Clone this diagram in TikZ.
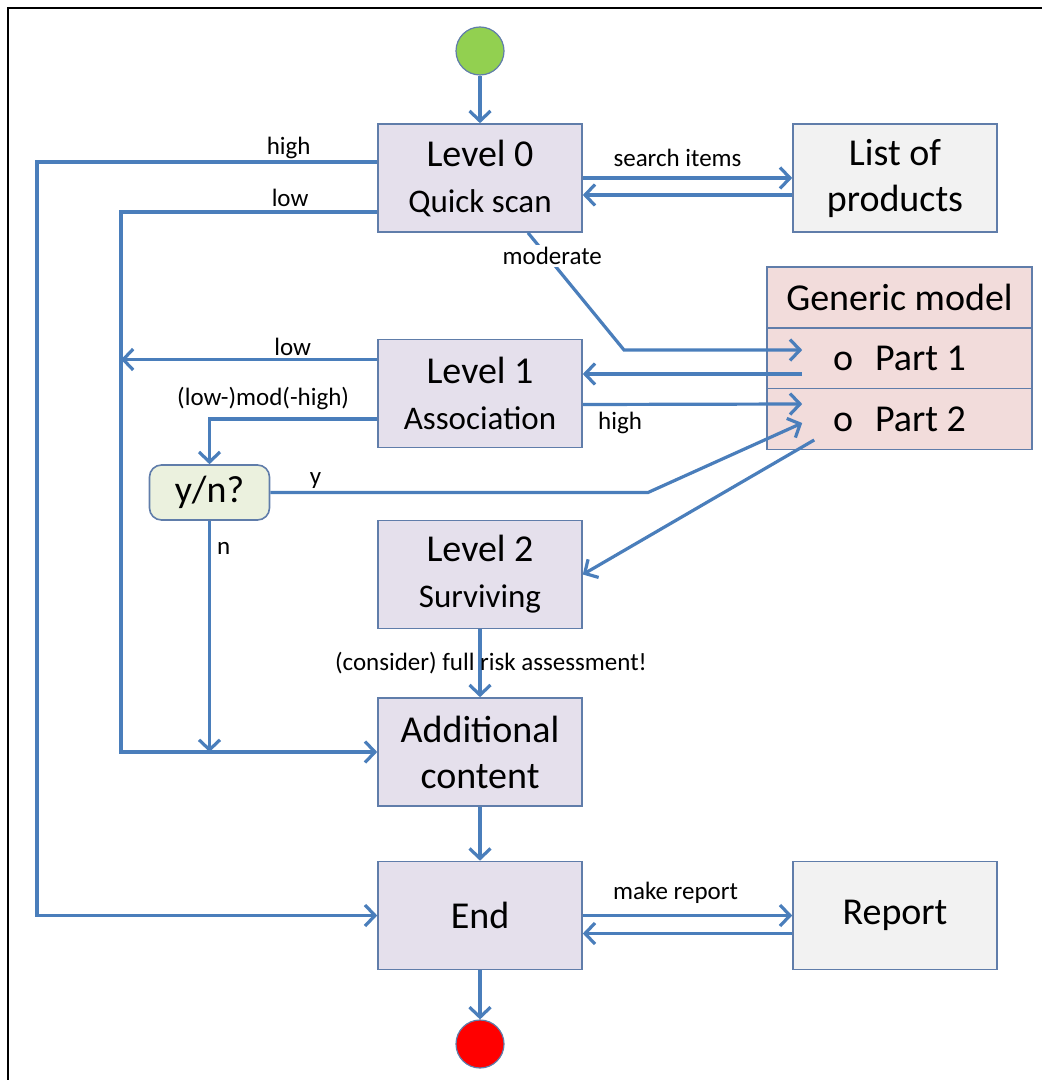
\documentclass[tikz,border=0pt]{standalone}
\usepackage{fontspec}
\setmainfont{Carlito}
\usetikzlibrary{
  arrows.meta,
  positioning
}
\definecolor{flowline}{RGB}{74,126,187}
\definecolor{boxline}{RGB}{96,125,170}
\definecolor{levelfill}{RGB}{229,224,236}
\definecolor{extfill}{RGB}{242,242,242}
\definecolor{modelfill}{RGB}{242,220,219}
\definecolor{choicefill}{RGB}{235,241,222}
\definecolor{startfill}{RGB}{146,208,80}
\newcommand{\subline}{\fontsize{16.5}{23}\selectfont}

\begin{document}
\begin{tikzpicture}[
  x=0.5pt, y=-0.5pt,
  every node/.style={font=\fontsize{19}{23}\selectfont},
  box/.style={draw=boxline, line width=0.8pt, minimum width=102pt, minimum height=54pt,
              align=center, inner sep=0pt},
  levelbox/.style={box, fill=levelfill},
  extbox/.style={box, fill=extfill},
  partbox/.style={draw=boxline, line width=0.8pt, fill=modelfill, minimum width=132.5pt,
                  minimum height=30.5pt, inner sep=0pt},
  terminal/.style={circle, draw=boxline, line width=0.6pt, minimum size=24pt, inner sep=0pt},
  flow/.style={draw=flowline, line width=1.6pt, -{Straight Barb[length=5pt,width=10.5pt]}},
  lbl/.style={font=\fontsize{12.5}{14}\selectfont, inner sep=1pt}
]
\useasboundingbox (0,0) rectangle (1041,1080);
\draw[line width=1pt] (8,1090) -- (8,8) -- (1050,8);

% start / stop
\node[terminal, fill=startfill] (start) at (480,51) {};
\node[terminal, fill=red] (stop) at (480,1044) {};

% levels
\node[levelbox] (lvl0) at (480,178) {Level 0\\{\subline Quick scan}};
\node[levelbox] (lvl1) at (480,393.5) {Level 1\\{\subline Association}};
\node[levelbox] (lvl2) at (480,574.5) {Level 2\\{\subline Surviving}};
\node[levelbox] (addc) at (480,752) {Additional\\content};
\node[levelbox] (endn) at (480,915.5) {End};

% outside boxes
\node[extbox] (prod) at (895,178) {List of\\products};
\node[extbox] (rep) at (895,915.5) {Report};

% generic model, one node per row
\node[partbox] (gm) at (899.5,297.5) {Generic model};
\node[partbox] (p1) at (899.5,358.5) {o\hspace{11pt}Part 1};
\node[partbox] (p2) at (899.5,419) {o\hspace{11pt}Part 2};

\node[draw=boxline, line width=0.8pt, fill=choicefill, rounded corners=6pt,
      minimum width=60pt, minimum height=27.5pt, inner sep=0pt] (yn) at (209.5,492.5) {y/n?};

% bends, rails and ends inside the model rows
\coordinate (hirail) at (37,0);
\coordinate (lorail) at (121,0);
\coordinate (modbend) at (624,350);
\coordinate (ybend) at (648,492.5);
\coordinate (p1in) at ([xshift=18pt,yshift=4.25pt]p1.west);
\coordinate (p1out) at ([xshift=18pt,yshift=-7.75pt]p1.west);
\coordinate (p2in) at ([xshift=18pt,yshift=7.5pt]p2.west);
\coordinate (p2yin) at ([xshift=18pt,yshift=-2pt]p2.west);
\coordinate (p2out) at ([xshift=24pt,yshift=-10.5pt]p2.west);
\coordinate (l1low) at ([yshift=17pt]lvl1.west);

% main line
\draw[flow] (start) -- (lvl0);
\draw[flow] ([yshift=8pt]lvl0.west) -| node[lbl, pos=0.13, above] {high} (hirail |- endn.west)
  -- (endn.west);
\draw[flow] ([yshift=-17pt]lvl0.west) -| node[lbl, pos=0.17, above=1pt] {low} (lorail |- addc.west)
  -- (addc.west);
\draw[flow] (lvl0.east) -- node[lbl, above=4pt, xshift=-5pt] {search items} (lvl0.east -| prod.west);
\draw[flow] ([yshift=-8.5pt]prod.west) -- ([yshift=-8.5pt]lvl0.east);
\draw[flow] ([xshift=24pt]lvl0.south) -- node[lbl, pos=0.2, xshift=2.5pt, fill=white] {moderate}
  (modbend) -- (p1in);

\draw[flow] (p1out) -- ([yshift=9.75pt]lvl1.east);
\draw[flow] ([yshift=-5.5pt]lvl1.east) -- node[lbl, pos=0.17, below=2pt] {high} (p2in);
\draw[flow] (l1low) -- node[lbl, pos=0.33, above] {low} (lorail |- l1low);
\draw[flow] ([yshift=-12.75pt]lvl1.west) -| node[lbl, pos=0.34, above=3pt] {(low-)mod(-high)} (yn.north);

\draw[flow] (yn.east) -- node[lbl, pos=0.12, above] {y} (ybend) -- (p2yin);
\draw[flow] (yn.south) -- node[lbl, pos=0.12, right=2pt] {n} (yn.south |- addc.west);
\draw[flow] (p2out) -- (lvl2.east);

\draw[flow] (lvl2) -- node[lbl, xshift=5.5pt] {(consider) full risk assessment!} (addc);
\draw[flow] (addc) -- (endn);
\draw[flow] (endn.east) -- node[lbl, above=4pt, xshift=-6pt] {make report} (rep.west);
\draw[flow] ([yshift=-9pt]rep.west) -- ([yshift=-9pt]endn.east);
\draw[flow] (endn) -- (stop);

\end{tikzpicture}
\end{document}
